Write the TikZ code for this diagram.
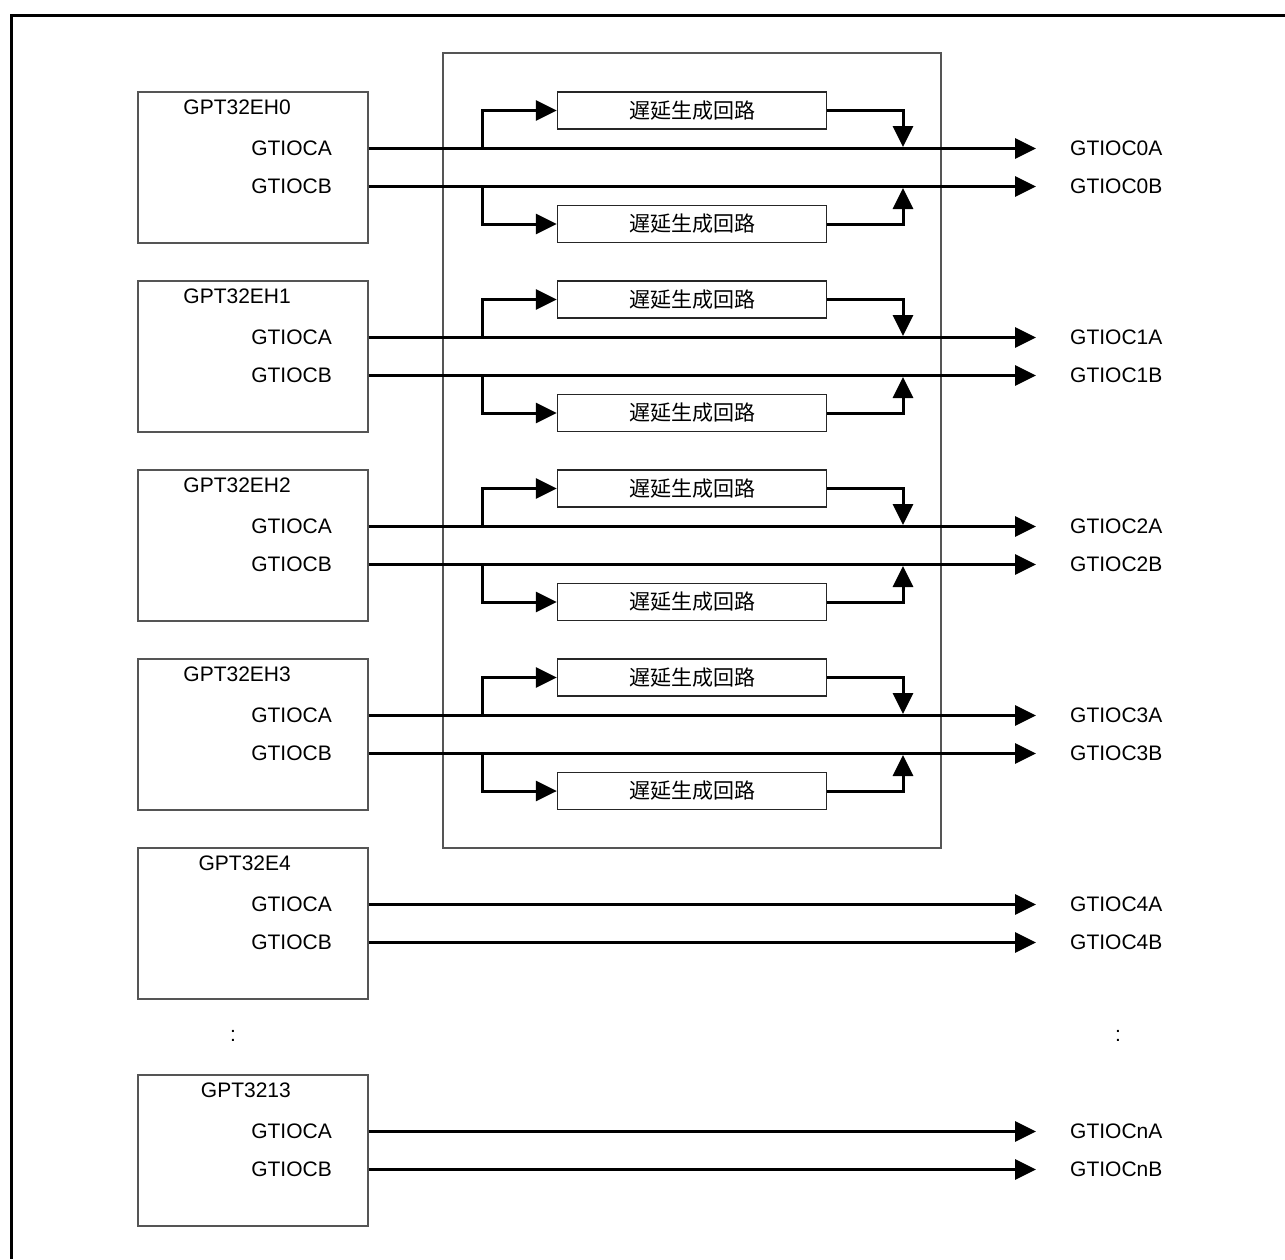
\documentclass[tikz,border=0pt]{standalone}
\usepackage{fontspec}
\setmainfont{Liberation Sans}
\newfontfamily\jpfont{Noto Sans CJK JP}
\usetikzlibrary{arrows.meta,positioning,calc}
\definecolor{boxgray}{HTML}{555555}

\tikzset{
  modbox/.style={draw=boxgray,line width=1.3pt,minimum width=230pt,
                 minimum height=151pt,inner sep=0pt},
  areabox/.style={draw=boxgray,line width=1.3pt,minimum width=498pt,
                  minimum height=795pt,inner sep=0pt},
  dlybox/.style={draw=black!85,line width=1.3pt,minimum width=269pt,
                 minimum height=37pt,inner sep=0pt,
                 font=\jpfont\fontsize{21}{21}\selectfont},
  sig/.style={line width=3pt,-{Triangle[length=21pt,width=20pt]}},
  port/.style={anchor=east,inner sep=0pt},
  outlbl/.style={anchor=west,inner sep=0pt},
  title/.style={anchor=east,inner sep=0pt},
}

\begin{document}
\begin{tikzpicture}[x=1pt,y=-1pt,font=\fontsize{21}{24}\selectfont]
\useasboundingbox (0,0) rectangle (1285,1259);
% outer frame (cut at right and bottom)
\draw[line width=3pt] (1285,15) -- (11,15) -- (11,1259);

% delay area
\node[areabox] (dlyarea) at (692,450.5) {};

% timer channels
\foreach \name/\top/\tag in {GPT32EH0/92/0,GPT32EH1/281/1,GPT32EH2/470/2,
                             GPT32EH3/659/3,GPT32E4/848/4,GPT3213/1075/n}{
  \node[modbox] (mod\tag) at (253,\top+75.5) {};
  \node[title] (ttl\tag) at (291,\top+15.5) {\name};
  \node[port] (pa\tag) at (332,\top+56.5) {GTIOCA};
  \node[port] (pb\tag) at (332,\top+94.5) {GTIOCB};
  \node[outlbl] (oa\tag) at (1070,\top+56.5) {GTIOC\tag A};
  \node[outlbl] (ob\tag) at (1070,\top+94.5) {GTIOC\tag B};
  \draw[sig,shorten >=34pt] (mod\tag.east |- pa\tag) -- (oa\tag.west);
  \draw[sig,shorten >=34pt] (mod\tag.east |- pb\tag) -- (ob\tag.west);
}

% delay generation circuits
\foreach \i in {0,...,3}{
  \pgfmathsetmacro\top{92+189*\i}
  \node[dlybox] (dla\i) at (692,\top+18.5) {遅延生成回路};
  \node[dlybox] (dlb\i) at (692,\top+132) {遅延生成回路};
  \coordinate (spa\i) at (482,\top+56.5);
  \coordinate (spb\i) at (482,\top+94.5);
  \coordinate (mga\i) at (903,\top+55);
  \coordinate (mgb\i) at (903,\top+96);
  \draw[sig] (spa\i) |- (dla\i.west);
  \draw[sig] (spb\i) |- (dlb\i.west);
  \draw[sig] (dla\i.east) -| (mga\i);
  \draw[sig] (dlb\i.east) -| (mgb\i);
}

% omitted channels
\node (dotl) at (233,1036) {:};
\node (dotr) at (1118,1036) {:};
\end{tikzpicture}
\end{document}
